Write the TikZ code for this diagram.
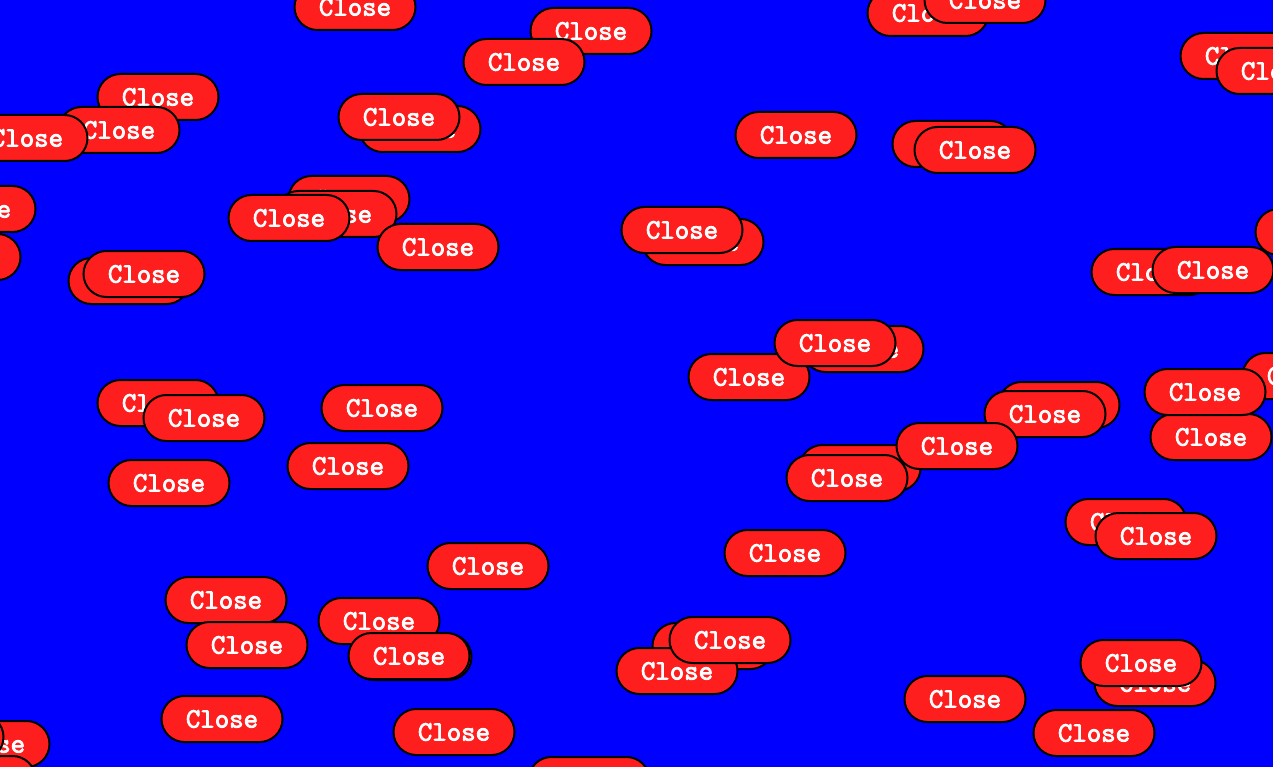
\documentclass[tikz,border=0pt]{standalone}
\usepackage{fontspec}
\newfontfamily\btnfont{Latin Modern Mono}[FakeBold=3]
\definecolor{btnred}{RGB}{255,30,30}
\definecolor{bgblue}{RGB}{0,0,255}

\begin{document}
\begin{tikzpicture}[x=1pt,y=-1pt,line width=2pt]
  \tikzstyle{closebutton}=[draw=black,fill=btnred,text=white,
                           rounded corners=23pt,minimum width=121pt,
                           minimum height=46pt,inner sep=0pt,
                           font=\btnfont\fontsize{28}{28}\selectfont]

  \useasboundingbox (0,0) rectangle (1273,767);
  \clip (0,0) rectangle (1273,767);
  \fill[bgblue] (0,0) rectangle (1273,767);

  % buttons, from the lowest to the topmost
  \foreach \bx/\by [count=\i] in {355/7, 591/31, 524/62, 928/13, 985/0,
      1241/56, 1277/71, 158/97, 119/130, 27/138, 420/129, 399/117,
      796/135, 953/144, 975/150, -25/209, -40/257, 349/199, 336/214,
      289/218, 438/247, 703/242, 682/230, 129/281, 144/274, 1152/272,
      1213/270, 1316/232, 863/349, 749/377, 835/343, 158/403, 204/418,
      382/408, 348/466, 169/483, 1059/405, 1045/414, 1303/376, 1211/437,
      1205/392, 860/468, 957/446, 847/478, 1126/522, 1156/536, 785/553,
      488/566, 226/600, 247/645, 379/621, 411/657, 409/656, 713/646,
      677/671, 730/640, 1155/683, 1141/663, 965/699, 1094/733, 222/719,
      454/732, 589/780, -11/744, -57/737, -25/779}
    \node[closebutton] (close\i) at (\bx,\by) {\bfseries Close};
\end{tikzpicture}
\end{document}
